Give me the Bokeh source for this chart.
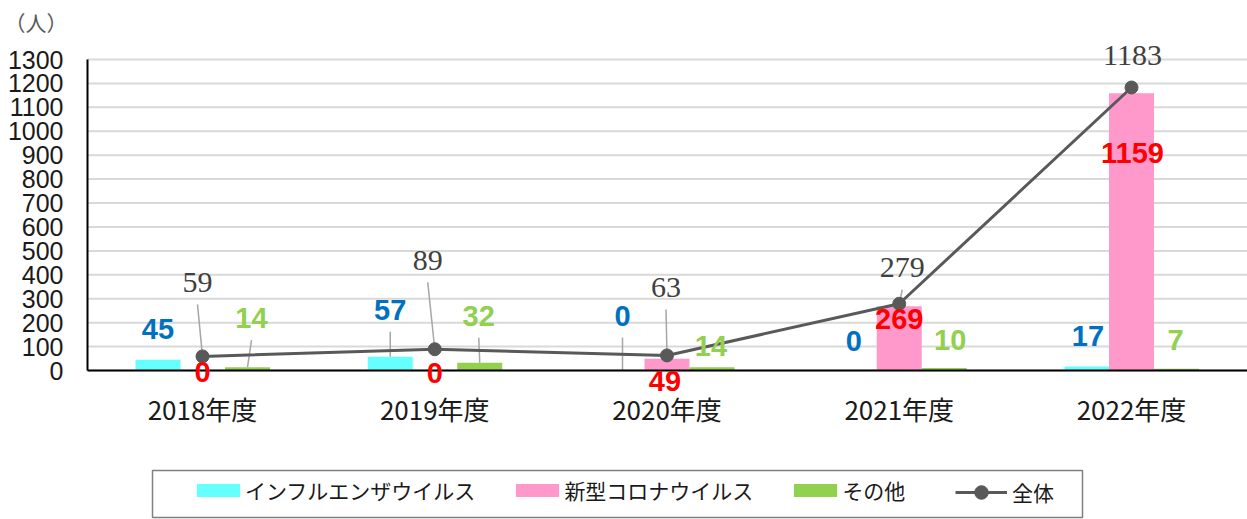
from bokeh.plotting import figure
from bokeh.models import (ColumnDataSource, FixedTicker, Range1d, Legend, LegendItem,
                          LabelSet, Label, BoxAnnotation)
from bokeh.embed import file_html
from bokeh.resources import INLINE
from bokeh.core.properties import value

# ---------------- data ----------------
years = ["2018年度", "2019年度", "2020年度", "2021年度", "2022年度"]
influenza = [45, 57, 0, 0, 17]
corona = [0, 0, 49, 269, 1159]
other = [14, 32, 14, 10, 7]
total = [59, 89, 63, 279, 1183]
y_ticks = list(range(0, 1301, 100))
series_names = ["インフルエンザウイルス", "新型コロナウイルス", "その他", "全体"]
unit_label = "（人）"

# ---------------- label placement (screen px, relative to anchor; dy down) ----------------
cyan_dx = [0, 0, 0, -1, 1]
cyan_dy = [-31, -47, -55, -30, -30]
cyan_lead = [0, 1, 1, 0, 0]
pink_dx = [0, 0, -2, 0, 1]
pink_dy = [1, 2, 22, 13, 60]
green_dx = [4, -1, -1, 6, -1]
green_dy = [-49, -47, -21, -28, -29]
green_lead = [1, 1, 0, 0, 0]
total_dx = [-5, -7, -1, 3, 1]
total_dy = [-74, -89, -68, -36, -32]
total_lead = [1, 1, 1, 1, 0]

# ---------------- geometry (canvas px) ----------------
W, H = 1247, 519
AXIS_X, CAT0_X, CAT_STEP = 87, 202, 232.25
Y_TOP, Y_ZERO = 59, 370
YMAX = y_ticks[-1]
PXX = CAT_STEP
PXY = (Y_ZERO - Y_TOP) / float(YMAX)
x_start = (0 - CAT0_X) / PXX
x_end = (W - CAT0_X) / PXX
x_axis = (AXIS_X - CAT0_X) / PXX
y_start = -(H - Y_ZERO) / PXY
y_end = YMAX + Y_TOP / PXY

CYAN, PINK, GREEN, LINE = "#66FFFF", "#FF99CC", "#92D050", "#595959"

xs = list(range(len(years)))
bw = 45 / PXX
x_cyan = [i - 44.5 / PXX for i in xs]
x_pink = [i for i in xs]
x_green = [i + 45 / PXX for i in xs]

p = figure(width=W, height=H, x_range=Range1d(x_start, x_end), y_range=Range1d(y_start, y_end),
           output_backend="svg", toolbar_location=None, min_border=0)
p.outline_line_color = None
p.background_fill_color = "white"
p.border_fill_color = "white"
p.xgrid.grid_line_color = None
p.ygrid.grid_line_color = None

# gridlines from the y ticks, starting at the axis
p.segment(x0=[x_axis] * len(y_ticks), x1=[x_end] * len(y_ticks), y0=y_ticks, y1=y_ticks,
          line_color="#D9D9D9", line_width=2)

# axes
p.yaxis.fixed_location = x_axis
p.yaxis.bounds = (0, YMAX)
p.yaxis.ticker = FixedTicker(ticks=y_ticks)
p.yaxis.major_label_text_font = "Liberation Sans"
p.yaxis.major_label_text_font_size = "25px"
p.yaxis.major_label_text_color = "#1a1a1a"
p.yaxis.major_tick_line_color = None
p.yaxis.minor_tick_line_color = None
p.yaxis.major_tick_out = 0
p.yaxis.major_label_standoff = 24
p.yaxis.axis_line_color = "black"
p.yaxis.axis_line_width = 2

p.xaxis.fixed_location = 0
p.xaxis.bounds = (x_axis, x_end)
p.xaxis.ticker = FixedTicker(ticks=xs)
p.xaxis.major_label_overrides = {i: y for i, y in zip(xs, years)}
p.xaxis.major_label_text_font = "Noto Sans CJK JP"
p.xaxis.major_label_text_font_size = "26px"
p.xaxis.major_label_text_color = "#1a1a1a"
p.xaxis.major_tick_line_color = None
p.xaxis.minor_tick_line_color = None
p.xaxis.major_tick_out = 0
p.xaxis.major_label_standoff = 19
p.xaxis.axis_line_color = "black"
p.xaxis.axis_line_width = 2

# bars
r_cyan = p.vbar(x=x_cyan, top=influenza, width=bw, fill_color=CYAN, line_color=None)
r_pink = p.vbar(x=x_pink, top=corona, width=bw, fill_color=PINK, line_color=None)
r_green = p.vbar(x=x_green, top=other, width=bw, fill_color=GREEN, line_color=None)

# leader lines
x0s, y0s, x1s, y1s = [], [], [], []
for xa, vals, dxs, dys, leads in [(x_cyan, influenza, cyan_dx, cyan_dy, cyan_lead),
                                   (x_green, other, green_dx, green_dy, green_lead),
                                   (x_pink, total, total_dx, total_dy, total_lead)]:
    for i in xs:
        if leads[i]:
            x0s.append(xa[i] + dxs[i] / PXX)
            y0s.append(vals[i] - (dys[i] + 22) / PXY)
            x1s.append(xa[i])
            y1s.append(vals[i])
p.segment(x0=x0s, y0=y0s, x1=x1s, y1=y1s, line_color="#A6A6A6", line_width=1.5)

# total line
r_line = p.line(xs, total, line_color=LINE, line_width=3)
r_pts = p.scatter(xs, total, size=13, fill_color=LINE, line_color=LINE)

# data labels
def add_labels(xa, vals, dxs, dys, color, font, style, size):
    src = ColumnDataSource(dict(x=xa, y=vals, text=[str(v) for v in vals],
                                xo=dxs, yo=[-d for d in dys]))
    ls = LabelSet(x="x", y="y", text="text", x_offset="xo", y_offset="yo", source=src,
                  text_align="center", text_baseline="middle",
                  text_font=value(font), text_font_style=style,
                  text_font_size=size, text_color=color)
    p.add_layout(ls)

add_labels(x_cyan, influenza, cyan_dx, cyan_dy, "#0070C0", "Liberation Sans", "bold", "29px")
add_labels(x_pink, corona, pink_dx, pink_dy, "#FF0000", "Liberation Sans", "bold", "29px")
add_labels(x_green, other, green_dx, green_dy, "#92D050", "Liberation Sans", "bold", "29px")
add_labels(x_pink, total, total_dx, total_dy, "#404040", "Liberation Serif", "normal", "30px")

# unit label
p.add_layout(Label(x=x_start + 4 / PXX, y=y_end - 6 / PXY,
                   text=unit_label, text_baseline="top", text_align="left",
                   text_font="Noto Sans CJK JP", text_font_size="21px", text_color="#595959"))

# legend box
p.add_layout(BoxAnnotation(left=152, right=1082, top=470, bottom=517,
                           left_units="canvas", right_units="canvas",
                           top_units="canvas", bottom_units="canvas",
                           fill_alpha=0, line_color="#808080", line_alpha=1, line_width=1.5))

common = dict(orientation="horizontal", label_text_font="Noto Sans CJK JP",
              label_text_font_size="21px", label_text_color="#1a1a1a",
              padding=0, margin=0, border_line_alpha=0, background_fill_alpha=0)

legend_bars = Legend(items=[LegendItem(label=series_names[0], renderers=[r_cyan]),
                            LegendItem(label=series_names[1], renderers=[r_pink]),
                            LegendItem(label=series_names[2], renderers=[r_green])],
                     location=(191, 14), glyph_width=54, glyph_height=16,
                     label_standoff=0, spacing=35, **common)
p.add_layout(legend_bars)

legend_line = Legend(items=[LegendItem(label=series_names[3], renderers=[r_line, r_pts])],
                     location=(955, 10), glyph_width=52, glyph_height=34,
                     label_standoff=5, **common)
p.add_layout(legend_line)

open("out.html", "w").write(file_html(p, INLINE))
